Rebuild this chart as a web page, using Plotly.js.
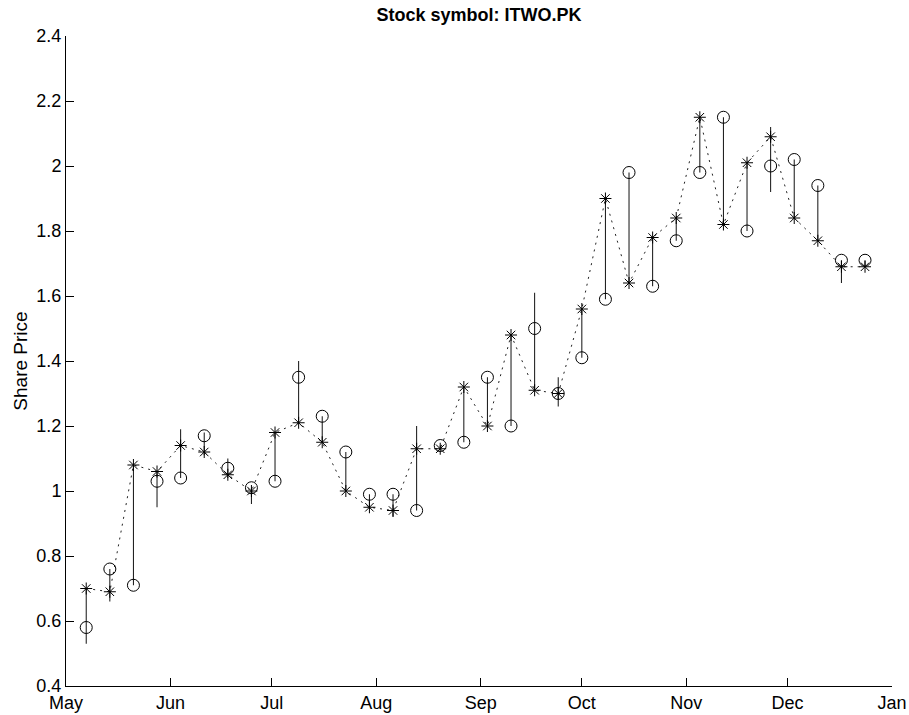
<!DOCTYPE html>
<html>
<head>
<meta charset="utf-8">
<script src="https://cdn.plot.ly/plotly-3.0.1.min.js"></script>
<style>html,body{margin:0;padding:0;background:#fff;}#chart{width:909px;height:715px;}</style>
</head>
<body>
<div id="chart"></div>
<script>
// Weekly dates (May 7 to Dec 24)
const startDate = '2006-05-07';
const numWeeks = 34;
const openPrices = [0.58,0.76,0.71,1.03,1.04,1.17,1.07,1.01,1.03,1.35,1.23,1.12,0.99,0.99,0.94,1.14,1.15,1.35,1.20,1.50,1.30,1.41,1.59,1.98,1.63,1.77,1.98,2.15,1.80,2.00,2.02,1.94,1.71,1.71];
const closePrices = [0.70,0.69,1.08,1.06,1.14,1.12,1.05,1.00,1.18,1.21,1.15,1.00,0.95,0.94,1.13,1.13,1.32,1.20,1.48,1.31,1.30,1.56,1.90,1.64,1.78,1.84,2.15,1.82,2.01,2.09,1.84,1.77,1.69,1.69];
const highPrices = [0.70,0.76,1.08,1.06,1.19,1.18,1.10,1.01,1.18,1.40,1.23,1.12,0.99,0.99,1.20,1.14,1.32,1.35,1.48,1.61,1.35,1.56,1.90,1.98,1.78,1.84,2.15,2.15,2.01,2.12,2.02,1.94,1.71,1.71];
const lowPrices = [0.53,0.66,0.71,0.95,1.04,1.11,1.04,0.96,1.03,1.21,1.15,1.00,0.945,0.92,0.94,1.13,1.15,1.20,1.20,1.31,1.26,1.41,1.59,1.64,1.63,1.77,1.98,1.82,1.80,1.92,1.84,1.77,1.64,1.69];
const yTicks = [0.4,0.6,0.8,1,1.2,1.4,1.6,1.8,2,2.2,2.4];
const yTickLabels = ['0.4','0.6','0.8','1','1.2','1.4','1.6','1.8','2','2.2','2.4'];
const xTickDates = ['2006-05-01','2006-06-01','2006-07-01','2006-08-01','2006-09-01','2006-10-01','2006-11-01','2006-12-01','2007-01-01'];
const xTickLabels = ['May','Jun','Jul','Aug','Sep','Oct','Nov','Dec','Jan'];

function fmt(d){return d.toISOString().slice(0,10);}
const dates = [];
const s = new Date(startDate+'T00:00:00Z');
for (let i=0;i<numWeeks;i++){ const d=new Date(s.getTime()+i*7*86400000); dates.push(fmt(d)); }

const hlX=[], hlY=[];
dates.forEach((d,i)=>{ hlX.push(d,d,null); hlY.push(highPrices[i],lowPrices[i],null); });

const traces = [
  {x:hlX,y:hlY,mode:'lines',line:{color:'#111',width:1},hoverinfo:'skip',showlegend:false},
  {x:dates,y:closePrices,mode:'lines',line:{color:'#222',width:1,dash:'2px,5px'},showlegend:false},
  {x:dates,y:openPrices,mode:'markers',marker:{symbol:'circle-open',size:12,color:'#000',line:{width:1,color:'#000'}},showlegend:false},
  {x:dates,y:closePrices,mode:'markers',marker:{symbol:'asterisk-open',size:10,color:'#000',line:{width:1,color:'#000'}},showlegend:false}
];

const layout = {
  width:909,height:715,
  paper_bgcolor:'#fff',plot_bgcolor:'#fff',
  margin:{l:66,r:17,t:36,b:29},
  font:{family:'Liberation Sans, Arial, sans-serif',size:18,color:'#000'},
  title:{text:'<b>Stock symbol: ITWO.PK</b>',x:0.527,xanchor:'center',y:0.98,yanchor:'middle',font:{size:18,color:'#000'}},
  xaxis:{type:'date',range:['2006-05-01','2007-01-01'],tickmode:'array',tickvals:xTickDates,ticktext:xTickLabels,
    ticks:'inside',ticklen:8,tickcolor:'#000',showline:true,linecolor:'#000',linewidth:1,showgrid:false,zeroline:false,
    tickfont:{size:18}},
  yaxis:{range:[0.4,2.4],tickmode:'array',tickvals:yTicks,ticktext:yTickLabels,
    ticks:'inside',ticklen:8,tickcolor:'#000',showline:true,linecolor:'#000',linewidth:1,showgrid:false,zeroline:false,
    tickfont:{size:18},title:{text:'Share Price',font:{size:19},standoff:3}}
};
Plotly.newPlot('chart',traces,layout,{displayModeBar:false,staticPlot:true});
</script>
</body>
</html>
